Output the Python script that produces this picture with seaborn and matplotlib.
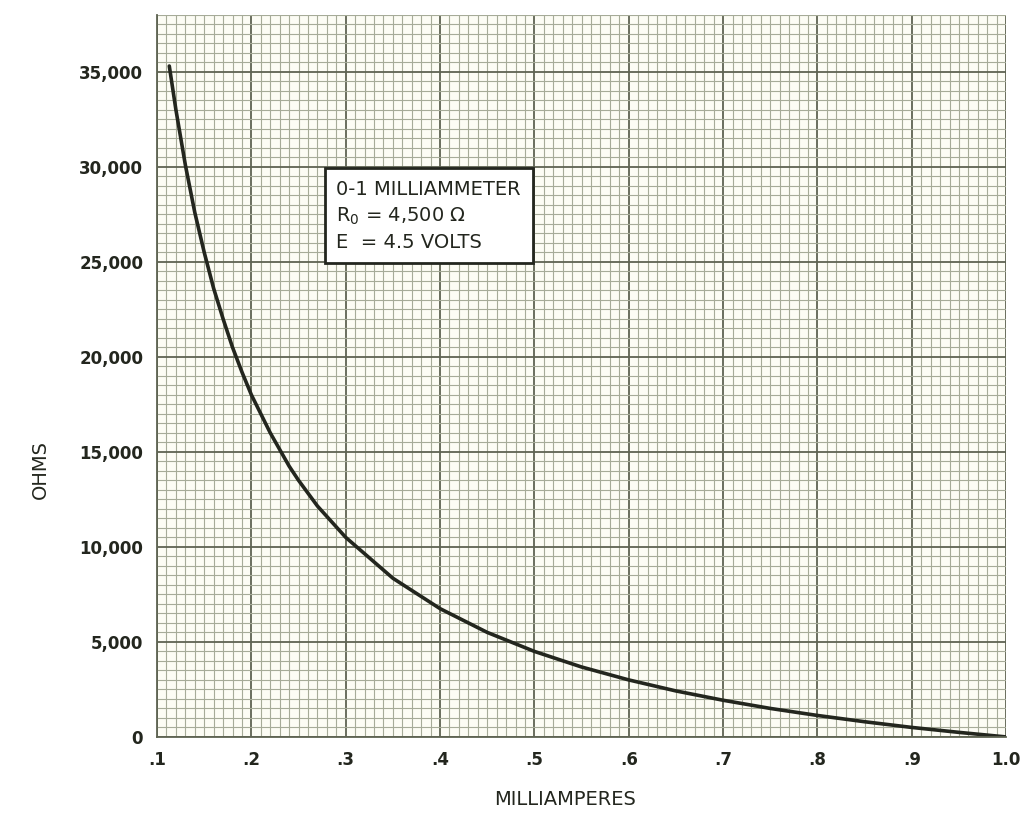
import numpy as np
import pandas as pd
import matplotlib
matplotlib.use('Agg')
import matplotlib.pyplot as plt
import seaborn as sns
from matplotlib.ticker import MultipleLocator

# --- values ---
milliamperes = [0.113, 0.12, 0.13, 0.14, 0.15, 0.16, 0.17, 0.18, 0.19, 0.2,
                0.22, 0.24, 0.25, 0.27, 0.3, 0.35, 0.4, 0.45, 0.5, 0.55,
                0.6, 0.65, 0.7, 0.75, 0.8, 0.85, 0.9, 0.95, 1.0]
ohms = [35300, 33000, 30100, 27600, 25500, 23600, 22000, 20500, 19200, 18000,
        16000, 14250, 13500, 12150, 10500, 8350, 6750, 5500, 4500, 3680,
        3000, 2420, 1930, 1500, 1130, 800, 500, 240, 0]

x_ticks = [0.1, 0.2, 0.3, 0.4, 0.5, 0.6, 0.7, 0.8, 0.9, 1.0]
x_labels = ['.1', '.2', '.3', '.4', '.5', '.6', '.7', '.8', '.9', '1.0']
y_ticks = [0, 5000, 10000, 15000, 20000, 25000, 30000, 35000]
y_labels = ['0', '5,000', '10,000', '15,000', '20,000', '25,000', '30,000', '35,000']

note = '0-1 MILLIAMMETER\nR$_0$ = 4,500 Ω\nE  = 4.5 VOLTS'

df = pd.DataFrame({'mA': milliamperes, 'ohms': ohms})

sns.set_style('white')
plt.rcParams['font.family'] = ['DejaVu Sans']

paper = '#fcfcf4'
ink = '#23261e'
fig = plt.figure(figsize=(10.23, 8.17), dpi=100, facecolor='white')
ax = fig.add_axes([0.1535, 0.098, 0.83, 0.884])
ax.set_facecolor(paper)

# graph paper grid
ax.set_xlim(0.1, 1.0)
ax.set_ylim(0, 38000)
ax.xaxis.set_major_locator(MultipleLocator(0.1))
ax.xaxis.set_minor_locator(MultipleLocator(0.01))
ax.yaxis.set_major_locator(MultipleLocator(5000))
ax.yaxis.set_minor_locator(MultipleLocator(500))
ax.grid(which='major', color='#5e6352', linewidth=1.3)
ax.grid(which='minor', color='#a6ab98', linewidth=0.8)
ax.set_axisbelow(True)

sns.lineplot(data=df, x='mA', y='ohms', ax=ax, color=ink, linewidth=2.6)

ax.set_xticks(x_ticks)
ax.set_xticklabels(x_labels)
ax.set_yticks(y_ticks)
ax.set_yticklabels(y_labels)
ax.tick_params(which='both', length=0, labelsize=12, colors=ink, pad=10)
for lbl in ax.get_xticklabels() + ax.get_yticklabels():
    lbl.set_fontweight('bold')

ax.set_xlabel('')
ax.set_ylabel('')
fig.text(0.552, 0.022, 'MILLIAMPERES', fontsize=14, color=ink,
         ha='center', va='center')
fig.text(0.039, 0.425, 'OHMS', fontsize=14, color=ink, rotation=90,
         ha='center', va='center')

for side in ['top', 'right']:
    ax.spines[side].set_visible(False)
for side in ['left', 'bottom']:
    ax.spines[side].set_color('#5e6352')
    ax.spines[side].set_linewidth(1.3)

ax.text(0.29, 29300, note, fontsize=14, color=ink, va='top', ha='left',
        linespacing=1.4,
        bbox=dict(boxstyle='square,pad=0.6', facecolor='white',
                  edgecolor=ink, linewidth=2.0))

fig.savefig('out.png', dpi=100, facecolor='white')
